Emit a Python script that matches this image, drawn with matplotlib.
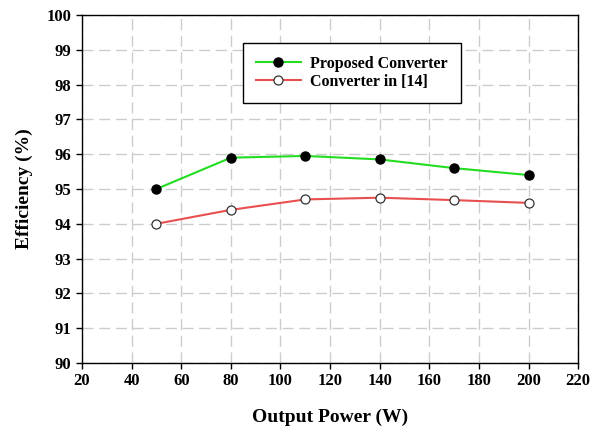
import numpy as np
from matplotlib import pyplot as plt

power = [50, 80, 110, 140, 170, 200]
eff_proposed = [95.0, 95.9, 95.95, 95.85, 95.6, 95.4]
eff_ref14 = [94.0, 94.4, 94.7, 94.75, 94.68, 94.6]

plt.rcParams['font.family'] = ['Liberation Serif', 'DejaVu Serif']
plt.rcParams['font.weight'] = 'bold'

fig = plt.figure(figsize=(5.9, 4.3), dpi=100)
ax = fig.add_axes([0.139, 0.156, 0.841, 0.809])

ax.plot(power, eff_proposed, color='#22dd22', lw=1.5, marker='o', ms=6.5,
        mfc='black', mec='black', label='Proposed Converter', zorder=3)
ax.plot(power, eff_ref14, color='#e85050', lw=1.5, marker='o', ms=6.5,
        mfc='white', mec='#333333', mew=0.9, label='Converter in [14]', zorder=3)

ax.set_xlim(20, 220)
ax.set_ylim(90, 100)
ax.set_xticks(np.arange(20, 221, 20))
ax.set_yticks(np.arange(90, 101, 1))
ax.grid(True, color='#cccccc', ls=(0, (8, 4)), lw=1.0)
ax.tick_params(direction='out', length=4, labelsize=12, width=1)
for lab in ax.get_xticklabels() + ax.get_yticklabels():
    lab.set_fontweight('bold')
for s in ax.spines.values():
    s.set_linewidth(1.0)

ax.set_xlabel('Output Power (W)', fontsize=14, fontweight='bold', labelpad=14)
ax.set_ylabel('Efficiency (%)', fontsize=14, fontweight='bold', labelpad=10)

leg = ax.legend(loc='upper left', bbox_to_anchor=(0.325, 0.92), fontsize=11.5,
                frameon=True, fancybox=False, edgecolor='black', framealpha=1,
                handlelength=2.8, handletextpad=0.6, borderpad=0.8,
                labelspacing=0.15, borderaxespad=0)
leg.get_frame().set_linewidth(1.0)
for t in leg.get_texts():
    t.set_fontweight('bold')

fig.savefig('out.png', dpi=100)
